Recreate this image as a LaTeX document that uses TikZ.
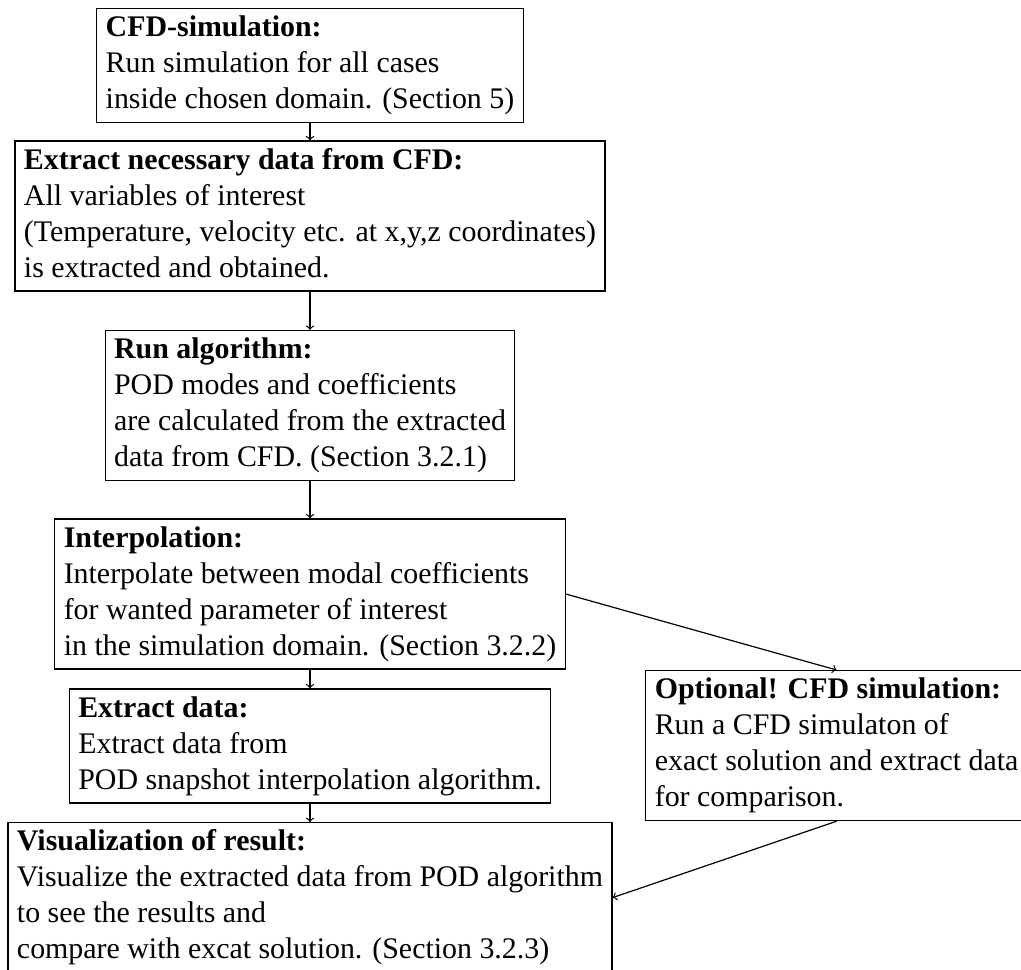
\documentclass[tikz,border=0pt]{standalone}
\usepackage{fontspec}
\setmainfont{Liberation Serif}
\begin{document}
\begin{tikzpicture}[x=0.5pt, y=-0.5pt, >=to,
    box/.style={draw, line width=0.6pt, align=left, inner xsep=4.5pt, inner ysep=1.5pt,
      font=\fontsize{14.95}{18}\selectfont},
    link/.style={->, line width=0.6pt}]
  \clip (0,0) rectangle (1021,969);
  % Main chain
  \node[box] (cfd) at (310,65.5) {\strut\textbf{CFD-simulation:}\\ Run simulation for all cases\\ inside chosen domain. (Section 5)\strut};
  \node[box] (extract) at (310,216) {\strut\textbf{Extract necessary data from CFD:}\\ All variables of interest\\ (Temperature, velocity etc. at x,y,z coordinates)\\ is extracted and obtained.\strut};
  \node[box] (algo) at (310,405.5) {\strut\textbf{Run algorithm:}\\ POD modes and coefficients\\ are calculated from the extracted\\ data from CFD. (Section 3.2.1)\strut};
  \node[box] (interp) at (310,594) {\strut\textbf{Interpolation:}\\ Interpolate between modal coefficients\\ for wanted parameter of interest\\ in the simulation domain. (Section 3.2.2)\strut};
  \node[box] (data) at (310,746) {\strut\textbf{Extract data:}\\ Extract data from\\ POD snapshot interpolation algorithm.\strut};
  \node[box, anchor=north] (visual) at (310,822) {\strut\textbf{Visualization of result:}\\ Visualize the extracted data from POD algorithm\\ to see the results and\\ compare with excat solution. (Section 3.2.3)\strut};
  % Side branch
  \node[box, anchor=north] (optional) at (836.6,670) {\strut\textbf{Optional! CFD simulation:}\\ Run a CFD simulaton of\\ exact solution and extract data\\ for comparison.\strut};
  % Connectors
  \draw[link] (cfd) -- (extract);
  \draw[link] (extract) -- (algo);
  \draw[link] (algo) -- (interp);
  \draw[link] (interp) -- (data);
  \draw[link] (data) -- (visual);
  \draw[link] (interp.east) -- (optional.north);
  \draw[link] (optional.south) -- (visual.east);
\end{tikzpicture}
\end{document}
